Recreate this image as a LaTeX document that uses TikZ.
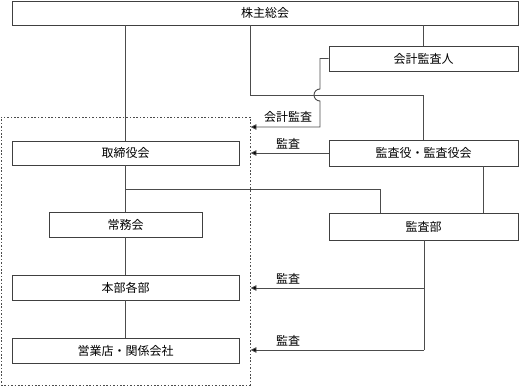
\documentclass[tikz,border=0pt]{standalone}
\usepackage{fontspec}
\newfontfamily\cjk{Noto Sans CJK JP}
\usetikzlibrary{arrows.meta}
\begin{document}
\begin{tikzpicture}[x=1pt,y=1pt,
  every node/.style={font=\cjk\fontsize{12}{14}\selectfont, text=black},
  box/.style={draw=black!75, line width=0.9pt, fill=white, inner sep=0pt, minimum height=#1},
  box/.default=25,
  ln/.style={draw=black!70, line width=0.9pt},
  arr/.style={ln, -{Triangle[length=6pt,width=5.5pt,fill=black]}},
  grpbox/.style={draw=black!70, line width=0.9pt, dash pattern=on 1.6pt off 1.8pt, inner sep=0pt},
  lbl/.style={inner sep=1pt}
]
\useasboundingbox (0,0) rectangle (519,386);
% group (dotted)
\node[grpbox, minimum width=249pt, minimum height=268pt] (grp) at (125.5,135) {};
% boxes
\node[box=24, minimum width=506pt] (soukai) at (265,373) {株主総会};
\node[box, minimum width=189pt] (kaikei) at (423.5,327.5) {会計監査人};
\node[box=24, minimum width=227pt] (tori) at (125.5,233) {取締役会};
\node[box=26, minimum width=189pt] (kansayaku) at (423.5,233) {監査役・監査役会};
\node[box, minimum width=153pt] (joumu) at (125.5,161.5) {常務会};
\node[box=27, minimum width=189pt] (kansabu) at (423.5,159.5) {監査部};
\node[box, minimum width=227pt] (honbu) at (125.5,98.5) {本部各部};
\node[box, minimum width=227pt] (eigyou) at (125.5,35.5) {営業店・関係会社};
% coordinates
\coordinate (a1) at (250,373);
\coordinate (a2) at (250,291);
\coordinate (b1) at (320,327.5);
\coordinate (b2) at (320,297);
\coordinate (b3) at (320,259);
\coordinate (c1) at (125,197);
\coordinate (c2) at (380,197);
\coordinate (d1) at (424,98);
\coordinate (d2) at (424,36);
% connectors
\draw[ln] (soukai.south -| tori.north) -- (tori.north);
\draw[ln] (tori) -- (joumu);
\draw[ln] (joumu) -- (honbu);
\draw[ln] (honbu) -- (eigyou);
\draw[ln] (soukai.south -| a1) -- (a2) -- (a2 -| kansayaku.north) -- (kansayaku.north);
\draw[ln] (soukai.south -| kaikei.north) -- (kaikei.north);
\draw[arr] (kaikei.west) -- (b1) -- (b2) arc[start angle=90, end angle=270, radius=6pt] -- (b3) -- (b3 -| grp.east);
\draw[arr] (kansayaku.west) -- (kansayaku.west -| grp.east);
\draw[ln] (c1) -- (c2) -- (c2 |- kansabu.north);
\draw[ln] (kansayaku.south -| 483,0) -- (kansabu.north -| 483,0);
\draw[ln] (kansabu.south -| d1) -- (d2);
\draw[arr] (d1) -- (d1 -| grp.east);
\draw[arr] (d2) -- (d2 -| grp.east);
% labels
\node[lbl] (l1) at (288,269) {会計監査};
\node[lbl] (l2) at (288,242) {監査};
\node[lbl] (l3) at (288,107) {監査};
\node[lbl] (l4) at (288,45) {監査};
\end{tikzpicture}
\end{document}
